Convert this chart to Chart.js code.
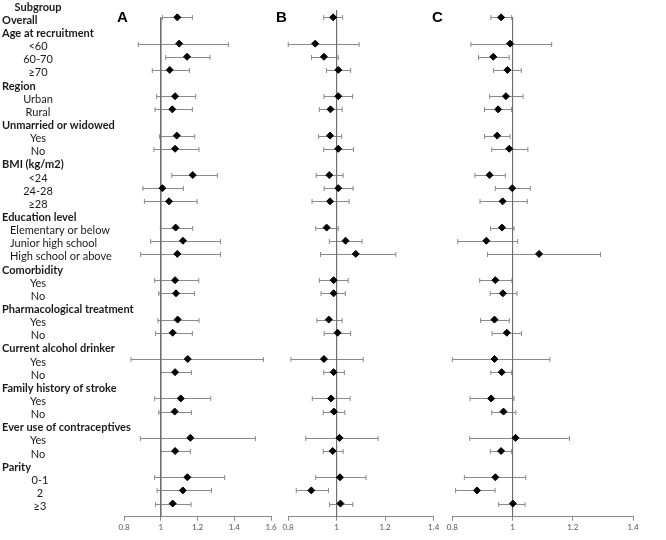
<!DOCTYPE html>
<html>
<head>
<meta charset="utf-8">
<script src="https://cdn.jsdelivr.net/npm/chart.js@4.4.1/dist/chart.umd.min.js"></script>
<style>
body { margin: 0; background: #fff; }
#wrap { position: relative; width: 666px; height: 540px; }
#wrap canvas { position: absolute; left: 0; top: 0; }
</style>
</head>
<body>
<div id="wrap">
  <canvas id="chartA" width="666" height="540"></canvas>
  <canvas id="chartB" width="666" height="540"></canvas>
  <canvas id="chartC" width="666" height="540"></canvas>
</div>
<script>
// rows, top to bottom
var rowLabels = ['Subgroup', 'Overall', 'Age at recruitment', '<60', '60-70', '≥70',
  'Region', 'Urban', 'Rural', 'Unmarried or widowed', 'Yes', 'No',
  'BMI (kg/m2)', '<24', '24-28', '≥28', 'Education level', 'Elementary or below',
  'Junior high school', 'High school or above', 'Comorbidity', 'Yes', 'No',
  'Pharmacological treatment', 'Yes', 'No', 'Current alcohol drinker', 'Yes', 'No',
  'Family history of stroke', 'Yes', 'No', 'Ever use of contraceptives', 'Yes', 'No',
  'Parity', '0-1', '2', '≥3'];
// t = column title, h = header, s = centred sub item, l = left sub item
var rowKinds = ['t', 'h', 'h', 's', 's', 's', 'h', 's', 's', 'h', 's', 's', 'h', 's', 's', 's',
  'h', 'l', 'l', 'l', 'h', 's', 's', 'h', 's', 's', 'h', 's', 's', 'h', 's', 's', 'h', 's', 's',
  'h', 's', 's', 's'];

// panel A
var orA = [null, 1.090, null, 1.100, 1.143, 1.049, null, 1.078, 1.063, null, 1.087, 1.078,
  null, 1.174, 1.009, 1.045, null, 1.081, 1.121, 1.090, null, 1.078, 1.083, null, 1.092, 1.065,
  null, 1.147, 1.078, null, 1.109, 1.076, null, 1.161, 1.078, null, 1.145, 1.120, 1.065];
var loA = [null, 1.009, null, 0.878, 1.027, 0.954, null, 0.978, 0.969, null, 0.994, 0.963,
  null, 1.060, 0.903, 0.911, null, 0.998, 0.945, 0.891, null, 0.967, 0.989, null, 0.985, 0.972,
  null, 0.838, 1.000, null, 0.967, 0.989, null, 0.889, 1.000, null, 0.967, 0.980, 0.972];
var hiA = [null, 1.172, null, 1.368, 1.268, 1.156, null, 1.190, 1.172, null, 1.185, 1.208,
  null, 1.308, 1.123, 1.198, null, 1.174, 1.325, 1.325, null, 1.207, 1.183, null, 1.208, 1.172,
  null, 1.559, 1.167, null, 1.272, 1.167, null, 1.515, 1.161, null, 1.348, 1.276, 1.165];

// panel B
var orB = [null, 0.986, null, 0.912, 0.948, 1.007, null, 1.007, 0.975, null, 0.973, 1.007,
  null, 0.970, 1.007, 0.973, null, 0.959, 1.037, 1.079, null, 0.988, 0.988, null, 0.968, 1.004,
  null, 0.948, 0.988, null, 0.977, 0.989, null, 1.012, 0.984, null, 1.014, 0.896, 1.016];
var loB = [null, 0.947, null, 0.801, 0.897, 0.958, null, 0.948, 0.929, null, 0.926, 0.947,
  null, 0.916, 0.949, 0.899, null, 0.914, 0.970, 0.934, null, 0.929, 0.936, null, 0.919, 0.949,
  null, 0.812, 0.947, null, 0.900, 0.945, null, 0.873, 0.945, null, 0.914, 0.834, 0.971];
var hiB = [null, 1.025, null, 1.093, 1.007, 1.058, null, 1.066, 1.023, null, 1.021, 1.070,
  null, 1.027, 1.068, 1.052, null, 1.007, 1.105, 1.244, null, 1.048, 1.036, null, 1.023, 1.058,
  null, 1.110, 1.032, null, 1.056, 1.034, null, 1.171, 1.027, null, 1.121, 0.967, 1.067];

// panel C
var orC = [null, 0.962, null, 0.992, 0.936, 0.983, null, 0.978, 0.952, null, 0.949, 0.989,
  null, 0.924, 0.999, 0.967, null, 0.965, 0.913, 1.088, null, 0.943, 0.968, null, 0.940, 0.981,
  null, 0.940, 0.964, null, 0.929, 0.970, null, 1.010, 0.962, null, 0.943, 0.882, 1.001];
var loC = [null, 0.928, null, 0.862, 0.887, 0.937, null, 0.924, 0.907, null, 0.907, 0.931,
  null, 0.875, 0.943, 0.892, null, 0.927, 0.818, 0.917, null, 0.891, 0.926, null, 0.894, 0.932,
  null, 0.800, 0.928, null, 0.859, 0.931, null, 0.858, 0.926, null, 0.840, 0.811, 0.954];
var hiC = [null, 0.997, null, 1.130, 0.989, 1.029, null, 1.035, 0.997, null, 0.992, 1.051,
  null, 0.976, 1.059, 1.049, null, 1.005, 1.017, 1.292, null, 0.998, 1.015, null, 0.989, 1.030,
  null, 1.124, 0.997, null, 1.005, 1.011, null, 1.189, 0.997, null, 1.044, 0.942, 1.042];

var ticksA = [0.8, 1, 1.2, 1.4, 1.6];
var ticksBC = [0.8, 1, 1.2, 1.4];

var labelFont = 'Lato, "Open Sans", sans-serif';

// whiskers with caps, drawn under the diamonds
var errorBars = {
  id: 'errorBars',
  beforeDatasetsDraw: function(chart, args, opts) {
    var ctx = chart.ctx, x = chart.scales.x, y = chart.scales.y;
    ctx.save();
    ctx.strokeStyle = '#8a8a8a';
    ctx.lineWidth = 1;
    for (var i = 0; i < opts.lo.length; i++) {
      if (opts.lo[i] == null) continue;
      var py = Math.round(y.getPixelForValue(i)) + 0.5;
      var x1 = x.getPixelForValue(opts.lo[i]), x2 = x.getPixelForValue(opts.hi[i]);
      ctx.beginPath();
      ctx.moveTo(x1, py); ctx.lineTo(x2, py);
      ctx.moveTo(x1, py - 2.5); ctx.lineTo(x1, py + 2.5);
      ctx.moveTo(x2, py - 2.5); ctx.lineTo(x2, py + 2.5);
      ctx.stroke();
    }
    ctx.restore();
  }
};

// panel letter and, on panel A, the subgroup column
var panelText = {
  id: 'panelText',
  afterDraw: function(chart, args, opts) {
    var ctx = chart.ctx, y = chart.scales.y;
    ctx.save();
    ctx.fillStyle = '#000';
    ctx.font = 'bold 15px "Liberation Sans", Arial, sans-serif';
    ctx.textBaseline = 'alphabetic';
    ctx.textAlign = 'left';
    ctx.fillText(opts.letter, opts.letterX, 22);
    if (opts.rows) {
      ctx.textBaseline = 'middle';
      ctx.fillStyle = '#1a1a1a';
      for (var i = 0; i < rowLabels.length; i++) {
        var kind = rowKinds[i];
        var py = y.getPixelForValue(i) + 3;
        ctx.font = (kind === 'h' || kind === 't' ? 'bold ' : '') + '11px ' + labelFont;
        if (kind === 'h') { ctx.textAlign = 'left'; ctx.fillText(rowLabels[i], 2, py); }
        else if (kind === 'l') { ctx.textAlign = 'left'; ctx.fillText(rowLabels[i], 10, py); }
        else { ctx.textAlign = 'center'; ctx.fillText(rowLabels[i], i > 35 ? 40 : 38, py); }
      }
    }
    ctx.restore();
  }
};

function points(or) {
  var out = [];
  for (var i = 0; i < or.length; i++) {
    if (or[i] != null) out.push({ x: or[i], y: i });
  }
  return out;
}

function makePanel(id, or, lo, hi, ticks, left, right, refTop, letter, letterX, rows) {
  return new Chart(document.getElementById(id).getContext('2d'), {
    type: 'scatter',
    data: {
      datasets: [{
        data: points(or),
        pointStyle: 'rectRot',
        pointRadius: 3.5,
        pointBackgroundColor: '#000',
        pointBorderColor: '#000',
        pointBorderWidth: 1,
        clip: false,
        order: 1
      }, {
        type: 'line',
        data: [{ x: 1, y: refTop }, { x: 1, y: 39 }],
        borderColor: '#6e6e6e',
        borderWidth: 1,
        pointRadius: 0,
        order: 2
      }]
    },
    options: {
      responsive: false,
      animation: false,
      layout: { autoPadding: false, padding: { left: left, right: 666 - right, top: 0, bottom: 0 } },
      scales: {
        x: {
          type: 'linear',
          min: ticks[0],
          max: ticks[ticks.length - 1],
          afterBuildTicks: function(scale) {
            scale.ticks = ticks.map(function(v) { return { value: v }; });
          },
          afterFit: function(scale) { scale.height = 23.3; },
          grid: { drawOnChartArea: false, drawTicks: true, tickLength: 4, color: '#8a8a8a' },
          border: { display: true, color: '#8a8a8a', width: 1 },
          ticks: {
            padding: 2,
            color: '#555',
            font: { family: labelFont, size: 8 },
            maxRotation: 0,
            callback: function(v) { return String(v); }
          }
        },
        y: {
          type: 'linear',
          display: false,
          reverse: true,
          min: -0.32,
          max: 39
        }
      },
      plugins: {
        legend: { display: false },
        tooltip: { enabled: false },
        errorBars: { lo: lo, hi: hi },
        panelText: { letter: letter, letterX: letterX, rows: rows }
      }
    },
    plugins: [errorBars, panelText]
  });
}

makePanel('chartA', orA, loA, hiA, ticksA, 124, 271, 1, 'A', 117, true);
makePanel('chartB', orB, loB, hiB, ticksBC, 288, 433.7, 0.45, 'B', 276, false);
makePanel('chartC', orC, loC, hiC, ticksBC, 452.3, 633, 1, 'C', 432, false);
</script>
</body>
</html>
